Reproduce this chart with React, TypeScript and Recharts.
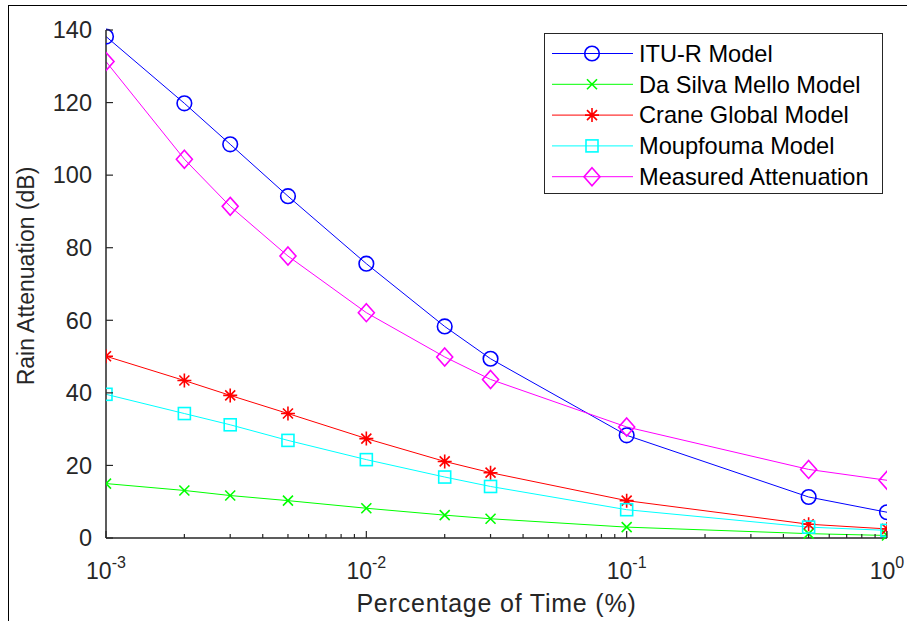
import React from "react";
import { LineChart, Line, XAxis, YAxis } from "recharts";

const TIME = [0.001, 0.002, 0.003, 0.005, 0.01, 0.02, 0.03, 0.1, 0.5, 1];
const ITU_R = [138.2, 119.8, 108.5, 94.2, 75.6, 58.3, 49.4, 28.3, 11.3, 7.1];
const DA_SILVA = [15.0, 13.1, 11.7, 10.3, 8.2, 6.3, 5.3, 3.0, 1.2, 0.7];
const CRANE = [50.1, 43.4, 39.3, 34.3, 27.4, 21.1, 18.0, 10.3, 3.8, 2.5];
const MOUPFOUMA = [39.6, 34.3, 31.2, 26.9, 21.6, 16.8, 14.2, 7.8, 3.0, 2.1];
const MEASURED = [131.3, 104.4, 91.4, 77.7, 62.1, 49.9, 43.7, 30.6, 18.9, 15.9];

const X_TICKS = [
  0.001, 0.002, 0.003, 0.004, 0.005, 0.006, 0.007, 0.008, 0.009,
  0.01, 0.02, 0.03, 0.04, 0.05, 0.06, 0.07, 0.08, 0.09,
  0.1, 0.2, 0.3, 0.4, 0.5, 0.6, 0.7, 0.8, 0.9, 1,
];
const X_MAJOR: Record<number, string> = { 0.001: "-3", 0.01: "-2", 0.1: "-1", 1: "0" };
const Y_TICKS = [0, 20, 40, 60, 80, 100, 120, 140];

const SERIES = [
  { key: "itu", name: "ITU-R Model", color: "#0000ff", shape: "circle", values: ITU_R },
  { key: "silva", name: "Da Silva Mello Model", color: "#00ff00", shape: "x", values: DA_SILVA },
  { key: "crane", name: "Crane Global Model", color: "#ff0000", shape: "star", values: CRANE },
  { key: "moup", name: "Moupfouma Model", color: "#00ffff", shape: "square", values: MOUPFOUMA },
  { key: "meas", name: "Measured Attenuation", color: "#ff00ff", shape: "diamond", values: MEASURED },
];

const data = TIME.map((t, i) => {
  const row: Record<string, number> = { t };
  SERIES.forEach((s) => (row[s.key] = s.values[i]));
  return row;
});

const AX = "#262626";
const FONT = '"Liberation Sans", Arial, sans-serif';

function Marker({ shape, cx, cy, color }: { shape: string; cx: number; cy: number; color: string }) {
  const p = { fill: "none", stroke: color, strokeWidth: 1.6 };
  switch (shape) {
    case "circle":
      return <circle cx={cx} cy={cy} r={7.3} {...p} />;
    case "x":
      return <path d={`M${cx - 5},${cy - 5}L${cx + 5},${cy + 5}M${cx - 5},${cy + 5}L${cx + 5},${cy - 5}`} {...p} />;
    case "star":
      return (
        <path
          d={`M${cx - 7},${cy}L${cx + 7},${cy}M${cx},${cy - 7}L${cx},${cy + 7}M${cx - 5},${cy - 5}L${cx + 5},${cy + 5}M${cx - 5},${cy + 5}L${cx + 5},${cy - 5}`}
          {...p}
        />
      );
    case "square":
      return <rect x={cx - 6} y={cy - 6} width={12} height={12} {...p} />;
    default:
      return <path d={`M${cx},${cy - 9}L${cx + 8},${cy}L${cx},${cy + 9}L${cx - 8},${cy}Z`} {...p} />;
  }
}

function XTick(props: any) {
  const { x, y, payload } = props;
  const exp = X_MAJOR[payload.value];
  return (
    <g>
      <line x1={x} x2={x} y1={y} y2={y - (exp ? 7 : 4)} stroke={AX} strokeWidth={1.2} />
      {exp && (
        <text x={x} y={y + 41} textAnchor="middle" fill={AX} fontSize={23} fontFamily={FONT}>
          <tspan>10</tspan>
          <tspan dy={-11} fontSize={16}>{exp}</tspan>
        </text>
      )}
    </g>
  );
}

function XTopTick(props: any) {
  const { x, y, payload } = props;
  const major = X_MAJOR[payload.value];
  return <line x1={x} x2={x} y1={y} y2={y + (major ? 7 : 4)} stroke={AX} strokeWidth={1.2} />;
}

function YTick(props: any) {
  const { x, y, payload } = props;
  return (
    <g>
      <line x1={x} x2={x + 7} y1={y} y2={y} stroke={AX} strokeWidth={1.2} />
      <text x={x - 14} y={y} dy="0.35em" textAnchor="end" fill={AX} fontSize={23.5} fontFamily={FONT}>
        {payload.value}
      </text>
    </g>
  );
}

function YRightTick(props: any) {
  const { x, y } = props;
  return <line x1={x} x2={x - 7} y1={y} y2={y} stroke={AX} strokeWidth={1.2} />;
}

function YLabel(props: any) {
  const vb = props.viewBox;
  const x = vb.x + 26;
  const y = vb.y + vb.height / 2 - 8;
  return (
    <text
      x={x}
      y={y}
      dy="0.35em"
      transform={`rotate(-90, ${x}, ${y})`}
      textAnchor="middle"
      fill={AX}
      fontSize={23}
      fontFamily={FONT}
    >
      Rain Attenuation (dB)
    </text>
  );
}

function LegendBox() {
  return (
    <div
      style={{
        position: "absolute",
        left: 544,
        top: 33,
        width: 339,
        height: 161,
        border: `1px solid ${AX}`,
        background: "#fff",
        boxSizing: "border-box",
      }}
    >
      <svg width={337} height={159}>
        {SERIES.map((s, i) => {
          const cy = 19.5 + i * 30.8;
          return (
            <g key={s.key}>
              <line x1={7} x2={88} y1={cy} y2={cy} stroke={s.color} strokeWidth={1} />
              <Marker shape={s.shape} cx={47} cy={cy} color={s.color} />
              <text x={94} y={cy} dy="0.35em" fill="#000" fontSize={23.6} fontFamily={FONT}>
                {s.name}
              </text>
            </g>
          );
        })}
      </svg>
    </div>
  );
}

export default function App() {
  const axisLine = { stroke: AX, strokeWidth: 1.5 };
  return (
    <div style={{ position: "absolute", left: 0, top: 0, width: 907, height: 621, background: "#fff", fontFamily: FONT }}>
      <div
        style={{
          position: "absolute",
          left: 8,
          top: 5,
          width: 899,
          height: 616,
          borderLeft: "1px solid #000",
          borderTop: "1px solid #000",
        }}
      />
      <div style={{ position: "absolute", left: 0, top: 0 }}>
        <LineChart width={907} height={621} data={data} margin={{ top: 30, right: 20, bottom: 0, left: 0 }}>
          <XAxis
            xAxisId="b"
            dataKey="t"
            type="number"
            scale="log"
            domain={[0.001, 1]}
            allowDataOverflow
            ticks={X_TICKS}
            interval={0}
            height={83}
            tickSize={0}
            tickMargin={0}
            tickLine={false}
            axisLine={axisLine}
            tick={<XTick />}
            label={{
              value: "Percentage of Time (%)",
              position: "insideBottom",
              offset: 9,
              fill: AX,
              fontSize: 25,
              fontFamily: FONT,
              style: { letterSpacing: "0.8px" },
            }}
          />
          <XAxis
            xAxisId="t"
            orientation="top"
            dataKey="t"
            type="number"
            scale="log"
            domain={[0.001, 1]}
            allowDataOverflow
            ticks={X_TICKS}
            interval={0}
            height={0}
            tickSize={0}
            tickMargin={0}
            tickLine={false}
            axisLine={axisLine}
            tick={<XTopTick />}
          />
          <YAxis
            yAxisId="l"
            type="number"
            domain={[0, 140]}
            ticks={Y_TICKS}
            interval={0}
            width={106}
            tickSize={0}
            tickMargin={0}
            tickLine={false}
            axisLine={axisLine}
            tick={<YTick />}
            label={{ content: <YLabel /> }}
          />
          <YAxis
            yAxisId="r"
            orientation="right"
            type="number"
            domain={[0, 140]}
            ticks={Y_TICKS}
            interval={0}
            width={0}
            tickSize={0}
            tickMargin={0}
            tickLine={false}
            axisLine={axisLine}
            tick={<YRightTick />}
          />
          {SERIES.map((s) => (
            <Line
              key={s.key}
              xAxisId="b"
              yAxisId="l"
              dataKey={s.key}
              name={s.name}
              type="linear"
              stroke={s.color}
              strokeWidth={1}
              isAnimationActive={false}
              dot={(p: any) => <Marker key={`${s.key}-${p.index}`} shape={s.shape} cx={p.cx} cy={p.cy} color={s.color} />}
              activeDot={false}
            />
          ))}
        </LineChart>
      </div>
      <LegendBox />
    </div>
  );
}
